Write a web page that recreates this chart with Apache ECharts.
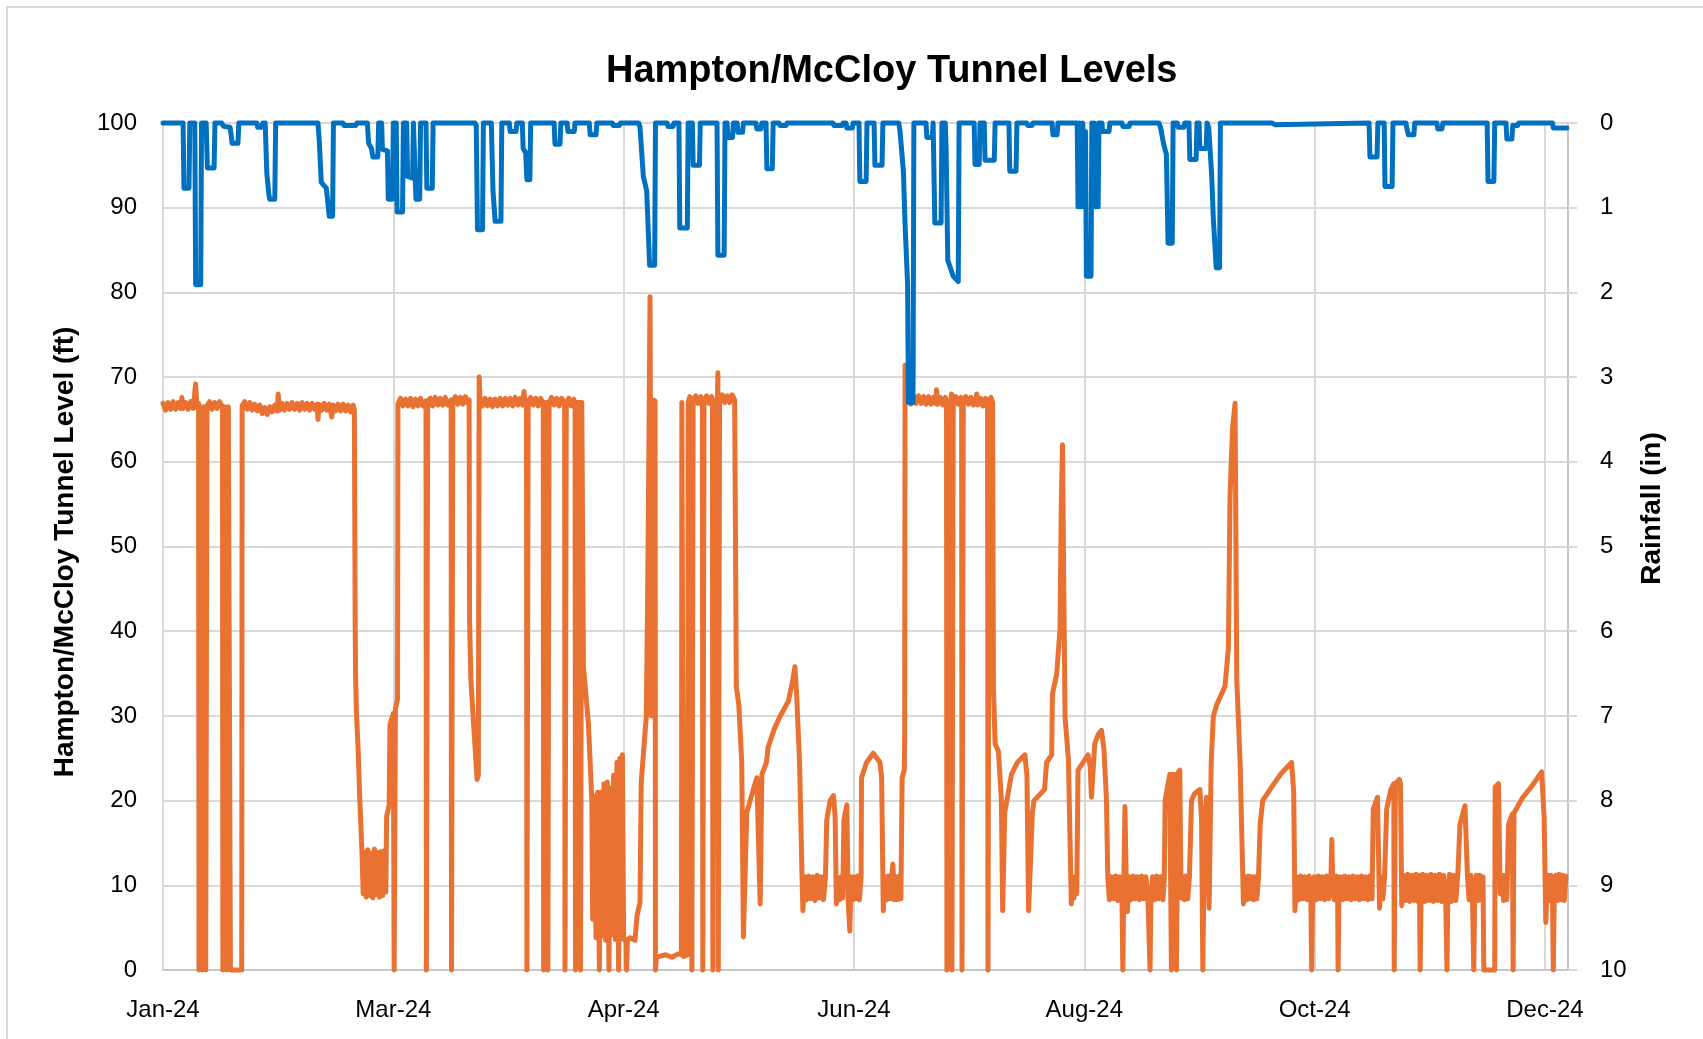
<!DOCTYPE html>
<html>
<head>
<meta charset="utf-8">
<title>Hampton/McCloy Tunnel Levels</title>
<script src="https://cdn.jsdelivr.net/npm/echarts@6/dist/echarts.min.js"></script>
<style>
html, body { margin: 0; padding: 0; background: #fff; }
#tunnelChart { width: 1703px; height: 1039px; }
</style>
</head>
<body>
<div id="tunnelChart"></div>
<script>
// x = days from the first record, labels every 55 days
var tickStep = 55
var dayMax = 335.5
var monthLabels = ['Jan-24', 'Mar-24', 'Apr-24', 'Jun-24', 'Aug-24', 'Oct-24', 'Dec-24']

// [day, tunnel level ft]
var tunnelLevel = [
  [0, 66.9], [0.6, 66.1], [1.2, 67.0], [1.8, 66.2], [2.4, 67.1], [3.0, 66.2], [3.6, 67.0], [4.2, 66.3], [4.5, 67.6], [4.8, 66.3], [5.4, 67.0],
  [6.0, 66.2], [6.6, 67.1], [7.2, 66.3], [7.8, 69.2], [8.1, 66.4], [8.5, 66.9],
  [8.6, 0], [8.8, 0], [8.9, 66.5], [9.3, 66.5], [9.4, 0], [9.6, 0], [9.7, 66.5], [10.1, 66.5], [10.2, 0], [10.4, 0],
  [10.5, 66.6], [11.1, 67.1], [11.7, 66.2], [12.3, 67.0], [12.9, 66.3], [13.5, 67.1], [14.2, 66.5],
  [14.3, 0], [14.6, 0], [14.7, 66.5], [15.1, 66.7], [15.2, 0], [15.5, 0], [15.6, 66.5], [16.0, 66.6], [16.1, 0], [18.8, 0],
  [18.9, 66.6], [19.5, 67.1], [20.1, 66.2], [20.7, 67.0], [21.3, 66.1], [21.9, 66.8], [22.5, 66.0], [23.1, 66.7], [23.7, 65.7], [24.3, 66.4],
  [24.9, 65.6], [25.5, 66.5], [26.1, 65.9], [26.7, 66.7], [27.3, 66.0], [27.5, 68], [27.8, 66.1], [28.4, 66.9], [29.0, 66.1], [29.6, 66.9],
  [30.2, 66.2], [30.8, 67.0], [31.4, 66.2], [32.0, 66.9], [32.6, 66.1], [33.2, 67.0], [33.8, 66.2], [34.4, 66.9], [35.0, 66.1], [35.6, 66.9],
  [36.2, 66.2], [36.8, 66.8], [37.0, 65.0], [37.3, 66.8], [37.9, 66.1], [38.5, 66.9], [39.1, 66.1], [39.7, 66.8], [40.3, 65.3], [40.6, 66.7],
  [41.2, 66.0], [41.8, 66.8], [42.4, 66.0], [43.0, 66.8], [43.6, 66.0], [44.2, 66.7], [44.8, 65.9], [45.4, 66.7], [45.7, 66.1],
  [45.9, 40], [46.0, 34.4], [46.2, 30.3], [46.6, 26], [47.0, 20], [47.5, 14.1],
  [47.8, 9], [48.1, 13.9], [48.5, 8.6], [48.9, 14.2], [49.3, 8.8], [49.7, 13.8], [50.1, 8.5], [50.5, 14.3], [50.9, 8.9], [51.3, 13.9], [51.7, 8.6], [52.1, 14], [52.5, 8.8], [52.9, 14.1], [53.2, 9.2],
  [53.4, 18.1], [54.0, 19.5], [54.2, 29], [55.0, 30.3], [55.2, 0], [55.4, 0], [55.5, 30.8], [56.0, 32],
  [56.1, 66.8], [56.7, 67.5], [57.3, 66.6], [57.9, 67.4], [58.5, 66.6], [59.1, 67.5], [59.7, 66.5], [60.3, 67.4], [60.9, 66.6], [61.5, 67.5], [62.1, 66.6], [62.8, 67.2],
  [62.9, 0], [63.1, 0],
  [63.2, 67], [63.8, 67.5], [64.4, 66.6], [65.0, 67.6], [65.6, 66.7], [66.2, 67.5], [66.8, 66.7], [67.4, 67.6], [68.0, 66.7], [68.8, 67.3],
  [68.9, 0], [69.1, 0],
  [69.2, 67], [69.8, 67.7], [70.4, 66.8], [71.0, 67.6], [71.6, 66.8], [72.2, 67.7], [72.8, 66.9], [73.1, 67.3],
  [73.2, 41.6], [73.5, 34.4], [74.3, 28], [75.0, 22.5], [75.3, 23], [75.5, 70],
  [75.7, 67.2], [76.3, 66.6], [76.9, 67.5], [77.5, 66.6], [78.1, 67.4], [78.7, 66.5], [79.3, 67.4], [79.9, 66.6], [80.5, 67.5], [81.1, 66.6],
  [81.7, 67.5], [82.3, 66.7], [82.9, 67.5], [83.5, 66.6], [84.1, 67.6], [84.7, 66.7], [85.3, 67.5], [85.9, 66.7], [86.2, 68.3], [86.5, 66.8], [86.8, 67.1],
  [86.9, 0], [87.1, 0],
  [87.2, 67], [87.8, 67.6], [88.4, 66.7], [89.0, 67.5], [89.6, 66.6], [90.2, 67.5], [90.8, 66.9],
  [90.9, 0], [91.1, 0], [91.2, 67], [91.8, 67], [91.9, 0], [92.1, 0],
  [92.2, 67], [92.8, 67.6], [93.4, 66.7], [94.0, 67.5], [94.6, 66.6], [95.2, 67.5], [95.9, 66.9],
  [96.0, 0], [96.2, 0],
  [96.3, 67], [96.9, 67.5], [97.5, 66.6], [98.1, 67.4], [98.4, 66.9],
  [98.5, 0], [98.7, 0], [98.8, 67], [99.6, 67], [99.7, 0], [99.9, 0], [100.0, 67], [100.3, 67],
  [100.4, 35.8], [101.6, 29], [102.4, 20],
  [102.6, 6], [103.0, 20.5], [103.4, 3.8], [103.8, 21], [104.2, 0], [104.5, 21], [104.9, 4], [105.3, 22], [105.7, 3.5], [106.1, 22.2], [106.5, 0],
  [106.8, 21.5], [107.2, 4.2], [107.6, 23], [108.0, 3.6], [108.4, 24.5], [108.8, 0], [109.1, 25], [109.4, 3.8], [109.7, 25.4], [110, 3.6],
  [110.6, 3.5], [110.7, 0], [110.9, 3.6], [111.5, 3.8], [112.7, 3.5],
  [113.2, 6.4], [113.9, 8], [114.2, 22.2], [115.4, 29.9], [115.7, 42.5], [116.0, 60], [116.3, 79.5], [116.6, 30], [116.9, 67.3], [117.5, 67.2], [117.6, 0], [117.8, 1.5],
  [118.5, 1.6], [120, 1.8], [121.5, 1.5], [123, 1.9], [123.8, 1.8], [123.9, 67], [124.2, 67.2], [124.3, 1.6], [125.3, 1.8],
  [125.4, 67], [125.8, 67.7], [126.2, 66.9],
  [126.3, 0], [126.5, 0],
  [126.6, 67.2], [127.2, 67.8], [127.8, 66.9], [128.4, 67.7], [128.8, 67],
  [128.9, 0], [129.1, 0],
  [129.2, 67.2], [129.8, 67.8], [130.4, 66.9], [131.0, 67.7], [131.2, 67.2],
  [131.3, 0], [131.5, 0], [131.6, 67.3], [132.4, 67.3], [132.5, 70.5], [132.6, 0], [132.8, 0],
  [132.9, 67.4], [133.5, 67.9], [134.1, 67.0], [134.7, 67.8], [135.3, 67.0], [135.9, 67.9], [136.5, 67.3],
  [136.7, 51.5], [136.9, 33.5], [137.5, 31.3], [138.2, 24.5], [138.6, 3.9], [139.4, 18.6], [140.5, 20.5], [141.8, 22.7], [142.6, 7.8], [143.0, 23.1],
  [144.1, 24.5], [144.5, 26.3], [146, 28.5], [147.3, 29.9], [149.3, 31.7], [150.3, 34], [150.9, 35.8], [151.3, 32.6], [152, 24.5], [152.6, 11], [152.8, 7],
  [153.2, 11], [153.7, 8.3], [154.2, 11.1], [154.7, 8.4], [155.2, 11], [155.7, 8.2], [156.2, 11.2], [156.7, 8.5], [157.2, 11], [157.7, 8.3], [158.2, 11.1],
  [158.5, 17.7], [159.3, 20], [160.1, 20.6], [160.5, 18.1], [160.8, 7.8], [161.1, 10.9], [161.5, 8.3], [161.9, 11], [162.3, 8.5], [162.6, 17.7], [163.3, 19.5],
  [163.6, 8.2], [164, 4.6], [164.3, 11], [164.7, 8.3], [165.1, 11], [165.5, 8.4], [165.9, 11.1], [166.3, 8.3], [166.7, 11],
  [166.8, 22.7], [168, 24.5], [169.6, 25.6], [171.2, 24.5], [171.6, 22.7], [172, 7],
  [172.4, 11], [172.8, 8.3], [173.2, 11.1], [173.6, 8.4], [174.0, 11], [174.3, 12.5], [174.6, 8.3], [175.0, 11], [175.4, 8.3], [175.8, 11.1], [176.2, 8.4],
  [176.5, 22.7], [177, 23.6], [177.1, 27.2], [177.2, 71.4],
  [177.4, 67], [178.0, 67.8], [178.6, 66.8], [179.2, 67.7], [179.8, 66.9], [180.4, 67.8], [181.0, 66.9], [181.6, 67.7], [182.2, 66.8], [182.8, 67.7],
  [183.4, 66.8], [184.0, 67.6], [184.5, 66.9], [184.7, 68.5], [185.0, 66.8], [185.6, 67.6], [186.2, 66.7], [186.8, 67.6], [187.1, 67.0],
  [187.2, 0], [187.4, 0], [187.5, 67], [188.1, 67.2], [188.3, 68], [188.4, 0], [188.6, 0],
  [188.7, 67.2], [189.3, 67.7], [189.9, 66.8], [190.5, 67.6], [190.7, 67.0],
  [190.8, 0], [191.0, 0],
  [191.1, 67.2], [191.7, 67.7], [192.3, 66.8], [192.9, 67.6], [193.5, 66.7], [194.1, 67.5], [194.3, 68], [194.6, 66.7], [195.2, 67.5], [195.8, 66.6], [196.4, 67.5], [196.9, 66.9],
  [197.0, 0], [197.2, 0], [197.3, 67.1], [197.7, 67.6], [198.1, 67],
  [198.3, 33.5], [198.7, 26.7], [199.5, 25.8], [200.2, 20], [200.5, 7], [201, 18.6], [201.5, 20], [202.6, 23.1], [204, 24.5], [205.8, 25.4], [206.3, 23], [206.7, 7],
  [207.6, 18.6], [208, 20], [210.5, 21.3], [211, 24.5], [212.2, 25.4], [212.4, 32.6], [213.4, 34.9], [214.2, 40.3], [214.5, 55], [214.8, 62], [215.1, 45], [215.4, 29.9],
  [216.2, 24.9], [216.9, 7.8], [217.2, 11], [217.5, 8.5], [217.9, 11], [218.2, 9], [218.5, 23.6], [220.9, 25.4], [221.4, 24], [221.7, 20.4], [222.5, 26.7],
  [223.3, 27.8], [224.1, 28.3], [224.7, 26], [225.3, 20], [225.6, 11],
  [226, 8.3], [226.5, 11], [227, 8.4], [227.5, 11.1], [228, 8.2], [228.5, 11], [229.0, 8.4], [229.2, 0], [229.4, 8.5], [229.7, 19.3], [230.0, 11], [230.3, 6.9],
  [230.7, 11], [231.2, 8.3], [231.7, 11.1], [232.2, 8.4], [232.7, 11], [233.2, 8.3], [233.7, 11.1], [234.2, 8.4], [234.7, 11], [235.2, 8.3], [235.7, 0], [235.9, 8.5],
  [236.3, 11], [236.8, 8.3], [237.3, 11.1], [237.8, 8.4], [238.3, 11], [238.8, 8.3], [239.1, 11],
  [239.3, 20], [240.4, 23.1], [240.7, 23], [240.8, 0], [241, 0], [241.2, 23.1], [241.8, 23], [242, 0], [242.2, 0], [242.4, 23.3], [242.8, 23.6],
  [243.1, 8.5], [243.5, 11], [243.9, 8.3], [244.3, 11.1], [244.7, 8.4], [245.1, 11], [245.6, 20], [246.3, 20.8], [247.6, 21.3], [248, 17.7], [248.3, 0], [248.5, 0],
  [248.7, 17], [249.2, 20.4], [249.8, 7.3], [250.3, 24.5], [250.8, 29.9], [251.6, 31.3], [253.6, 33.5], [254.4, 38], [254.8, 56], [255.4, 64], [256, 66.9],
  [256.4, 34.4], [257.2, 24.5], [258, 7.8],
  [258.4, 11], [258.8, 8.3], [259.2, 11.1], [259.6, 8.4], [260, 11], [260.4, 8.3], [260.8, 11], [261.2, 8.4], [261.6, 11],
  [262, 17.2], [262.6, 20], [265, 21.8], [267, 23.2], [269.5, 24.5], [270, 21], [270.3, 7],
  [270.7, 11], [271.2, 8.3], [271.7, 11.1], [272.2, 8.4], [272.7, 11], [273.2, 8.3], [273.7, 11.1], [274.1, 8.4], [274.3, 0], [274.5, 8.5], [274.9, 11],
  [275.4, 8.3], [275.9, 11.1], [276.4, 8.4], [276.9, 11], [277.4, 8.3], [277.9, 11.1], [278.4, 8.4], [278.9, 11], [279.1, 15.4], [279.3, 11], [279.7, 8.3],
  [280.2, 11.1], [280.5, 8.4], [280.6, 0], [280.8, 8.5], [281.2, 11], [281.7, 8.3], [282.2, 11.1], [282.7, 8.4], [283.2, 11], [283.7, 8.3], [284.2, 11.1],
  [284.7, 8.4], [285.2, 11], [285.7, 8.3], [286.2, 11.1], [286.7, 8.4], [287.2, 11], [287.7, 8.3], [288.2, 11.1], [288.7, 8.4],
  [289, 19], [290, 20.4], [290.5, 7.3], [290.9, 11], [291.3, 8.4], [291.7, 11], [292.2, 19], [293.2, 21.3], [293.9, 22], [294.0, 0], [294.2, 0], [294.3, 22],
  [295.2, 22.5], [295.5, 22], [295.8, 7.6],
  [296.2, 11.2], [296.7, 8.2], [297.2, 11.3], [297.7, 8.1], [298.2, 11.2], [298.7, 8.2], [299.2, 11.3], [299.7, 8.1], [300.0, 11.2], [300.2, 0], [300.4, 8.2],
  [300.8, 11.3], [301.3, 8.1], [301.8, 11.2], [302.3, 8.2], [302.8, 11.3], [303.3, 8.1], [303.8, 11.2], [304.3, 8.2], [304.8, 11.3], [305.3, 8.1], [305.8, 11.2],
  [306.3, 8.2], [306.6, 0], [306.8, 8.2], [307.2, 11.3], [307.7, 8.1], [308.2, 11.2], [308.7, 8.2], [309.2, 11.3],
  [309.7, 17.2], [310.9, 19.4], [311.5, 11], [311.9, 8.3], [312.3, 11.2], [312.7, 8.2], [313, 0], [313.2, 8.3], [313.6, 11.2], [314, 8.2], [314.4, 11.2],
  [314.8, 8.3], [315.2, 11], [315.4, 0], [318, 0], [318.1, 21.6], [318.9, 22], [319.3, 9], [319.7, 11.2], [320.1, 8.2], [320.5, 11.2], [320.9, 8.3],
  [321.3, 17.2], [322.2, 18.4], [322.4, 0], [322.6, 18.5], [324.6, 20.3], [327, 21.8], [329.2, 23.4], [329.8, 18], [330.2, 5.6],
  [330.6, 11.2], [331, 8.2], [331.4, 11.2], [331.8, 8.3], [332, 0], [332.2, 8.4], [332.6, 11.2], [333, 8.2], [333.4, 11.3], [333.8, 8.3], [334.2, 11.2],
  [334.6, 8.2], [335.0, 11.1]
]

// [day, rainfall in]
var rainfall = [
  [0, 0], [4.8, 0], [5.0, 0.77], [6.2, 0.77], [6.4, 0],
  [7.6, 0], [7.8, 1.91], [9.0, 1.91], [9.2, 0],
  [10.3, 0], [10.6, 0.53], [12.2, 0.53], [12.4, 0],
  [14.0, 0], [14.5, 0.04], [16.0, 0.05], [16.3, 0.15], [16.5, 0.24], [17.9, 0.24], [18.1, 0],
  [22.4, 0], [22.6, 0.05], [23.6, 0.05], [23.8, 0],
  [24.4, 0], [24.8, 0.6], [25.3, 0.85], [25.5, 0.9], [26.7, 0.9], [26.9, 0],
  [37.0, 0], [37.3, 0.2], [37.8, 0.7], [39.0, 0.77], [39.7, 1.1], [40.5, 1.1], [40.7, 0],
  [43, 0], [43.2, 0.03], [46, 0.03], [46.3, 0],
  [48.8, 0], [49.1, 0.24], [49.8, 0.3], [50.1, 0.4], [51.3, 0.4], [51.5, 0],
  [52.2, 0], [52.4, 0.31], [53.6, 0.33], [53.8, 0.9], [54.8, 0.9], [55.0, 0],
  [55.7, 0], [55.9, 1.05], [57.2, 1.05], [57.4, 0],
  [58.2, 0], [58.4, 0.63], [59.6, 0.65], [59.8, 0], [60.2, 0], [60.4, 0.9], [61.3, 0.9], [61.5, 0],
  [62.8, 0], [63.0, 0.77], [64.3, 0.77], [64.5, 0],
  [74.5, 0], [74.8, 0.03], [75.1, 1.26], [76.3, 1.26], [76.5, 0],
  [78.4, 0], [78.8, 0.8], [79.3, 1.16], [80.7, 1.16], [80.9, 0],
  [82.7, 0], [82.9, 0.1], [84.3, 0.1], [84.5, 0],
  [85.8, 0], [86.0, 0.3], [86.6, 0.35], [86.9, 0.67], [87.6, 0.67], [87.8, 0],
  [93.4, 0], [93.6, 0.25], [94.8, 0.25], [95.0, 0],
  [96.5, 0], [96.7, 0.1], [98.2, 0.1], [98.4, 0],
  [101.8, 0], [102, 0.14], [103.4, 0.14], [103.6, 0],
  [107.3, 0], [107.5, 0.03], [109, 0.03], [109.2, 0],
  [113.6, 0], [113.9, 0.05], [114.7, 0.63], [115.5, 0.8], [116.2, 1.68], [117.4, 1.68], [117.6, 0],
  [120.4, 0], [120.6, 0.04], [121.8, 0.04], [122, 0],
  [123.2, 0], [123.4, 1.24], [125.2, 1.24], [125.4, 0],
  [126.4, 0], [126.6, 0.5], [128.1, 0.5], [128.3, 0],
  [132.3, 0], [132.5, 1.56], [134.0, 1.56], [134.2, 0],
  [134.7, 0], [134.9, 0.17], [136, 0.17], [136.2, 0],
  [137.1, 0], [137.3, 0.11], [138.4, 0.11], [138.6, 0],
  [141.6, 0], [141.8, 0.07], [142.8, 0.07], [143, 0],
  [144, 0], [144.2, 0.54], [145.5, 0.54], [145.7, 0],
  [147.1, 0], [147.3, 0.03], [148.8, 0.03], [149, 0],
  [160, 0], [160.2, 0.03], [162.2, 0.03], [162.4, 0],
  [163.1, 0], [163.3, 0.06], [164.6, 0.06], [164.8, 0],
  [166.2, 0], [166.4, 0.69], [167.9, 0.69], [168.1, 0],
  [169.8, 0], [170, 0.5], [171.7, 0.5], [171.9, 0],
  [175.7, 0], [176.0, 0.1], [176.8, 0.57], [177.2, 1.2], [177.8, 1.9], [178.0, 3.3], [179.1, 3.3], [179.3, 0],
  [182.2, 0], [182.4, 0.17], [183.7, 0.17], [183.9, 0],
  [184.1, 0], [184.3, 1.18], [185.8, 1.18], [186, 0],
  [186.8, 0], [187.0, 0.3], [187.4, 1.62], [188.7, 1.81], [189.9, 1.87], [190.1, 0],
  [193.7, 0], [193.9, 0.49], [194.9, 0.49], [195.1, 0],
  [196.1, 0], [196.3, 0.44], [198.5, 0.44], [198.7, 0],
  [202, 0], [202.2, 0.57], [203.7, 0.57], [203.9, 0],
  [206.3, 0], [206.5, 0.03], [207.5, 0.03], [207.7, 0],
  [212.3, 0], [212.5, 0.14], [213.5, 0.14], [213.7, 0],
  [218.3, 0], [218.5, 0.99], [218.9, 0], [219.2, 0.99], [219.6, 0], [219.9, 0.99], [220.3, 0.1], [220.5, 1.81], [221.6, 1.81], [221.8, 0],
  [222.0, 0.99], [222.4, 0], [222.7, 0.99], [223.1, 0.05], [223.3, 0.99], [223.5, 0],
  [224.2, 0], [224.4, 0.1], [225.9, 0.1], [226.1, 0],
  [229, 0], [229.2, 0.04], [230.7, 0.04], [230.9, 0],
  [237.8, 0], [238.2, 0.05], [238.9, 0.24], [239.6, 0.37], [240.0, 1.42], [241.0, 1.42], [241.2, 0],
  [242.2, 0], [242.4, 0.05], [243.8, 0.05], [244, 0],
  [245, 0], [245.2, 0.43], [246.7, 0.43], [246.9, 0],
  [247.4, 0], [247.6, 0.3], [249.1, 0.3], [249.3, 0],
  [249.5, 0], [249.7, 0.05], [250.4, 0.6], [250.8, 1.12], [251.5, 1.71], [252.3, 1.71], [252.5, 0],
  [264.8, 0], [265, 0.02], [265.5, 0.02], [265.7, 0],
  [288, 0], [288.2, 0.4], [289.9, 0.4], [290.1, 0],
  [291.6, 0], [291.8, 0.75], [293.5, 0.75], [293.7, 0],
  [296.8, 0], [297, 0.06], [297.4, 0.14], [298.7, 0.14], [298.9, 0],
  [304.2, 0], [304.4, 0.07], [305.4, 0.07], [305.6, 0],
  [316.2, 0], [316.4, 0.69], [317.8, 0.69], [318, 0],
  [320.7, 0], [320.9, 0.19], [322.1, 0.19], [322.3, 0.03], [323.5, 0.03], [323.7, 0],
  [331.8, 0], [332, 0.06], [335.2, 0.06]
]

var gridColor = '#d9d9d9'
var font = 'Liberation Sans, Arial, sans-serif'

var myChart = echarts.init(document.getElementById('tunnelChart'))
myChart.setOption({
  animation: false,
  backgroundColor: '#ffffff',
  title: {
    text: 'Hampton/McCloy Tunnel Levels',
    left: 606,
    top: 53,
    padding: 0,
    textStyle: { fontFamily: font, fontSize: 38, fontWeight: 'bold', color: '#000' }
  },
  graphic: [
    {
      type: 'rect',
      shape: { x: 7, y: 7, width: 1720, height: 1060 },
      style: { fill: 'none', stroke: gridColor, lineWidth: 2 },
      silent: true,
      z: -10
    }
  ],
  grid: { left: 163, right: 135, top: 123, bottom: 69 },
  xAxis: {
    type: 'value',
    min: 0,
    max: dayMax,
    interval: tickStep,
    axisLine: { show: true, lineStyle: { color: '#c6c6c6', width: 2 } },
    axisTick: { show: false },
    axisLabel: {
      margin: 28,
      fontFamily: font,
      fontSize: 24,
      color: '#000',
      formatter: function (v) {
        var i = v / tickStep
        return Number.isInteger(i) && monthLabels[i] ? monthLabels[i] : ''
      }
    },
    splitLine: { show: true, lineStyle: { color: gridColor, width: 2 } }
  },
  yAxis: [
    {
      type: 'value',
      position: 'left',
      min: 0,
      max: 100,
      interval: 10,
      name: 'Hampton/McCloy Tunnel Level (ft)',
      nameLocation: 'middle',
      nameGap: 84,
      nameTextStyle: { fontFamily: font, fontSize: 28, fontWeight: 'bold', color: '#000', padding: [0, 11, 0, 0] },
      axisLine: { show: true, lineStyle: { color: gridColor, width: 2 } },
      axisTick: { show: false },
      axisLabel: { margin: 26, fontFamily: font, fontSize: 24, color: '#000' },
      splitLine: { show: true, lineStyle: { color: gridColor, width: 2 } }
    },
    {
      type: 'value',
      position: 'right',
      min: 0,
      max: 10,
      interval: 1,
      inverse: true,
      name: 'Rainfall (in)',
      nameLocation: 'middle',
      nameGap: 70,
      nameTextStyle: { fontFamily: font, fontSize: 28, fontWeight: 'bold', color: '#000', padding: [0, 0, 0, 76] },
      axisLine: { show: true, lineStyle: { color: '#c6c6c6', width: 2 } },
      axisTick: { show: true, length: 9, lineStyle: { color: gridColor, width: 2 } },
      axisLabel: { margin: 32, fontFamily: font, fontSize: 24, color: '#000' },
      splitLine: { show: false }
    }
  ],
  series: [
    {
      name: 'Tunnel Level',
      type: 'line',
      yAxisIndex: 0,
      data: tunnelLevel,
      showSymbol: false,
      clip: false,
      lineStyle: { color: '#E97132', width: 5, cap: 'round', join: 'round' }
    },
    {
      name: 'Rainfall',
      type: 'line',
      yAxisIndex: 1,
      data: rainfall,
      showSymbol: false,
      clip: false,
      lineStyle: { color: '#0070C0', width: 5, cap: 'round', join: 'round' }
    }
  ]
})
</script>
</body>
</html>
